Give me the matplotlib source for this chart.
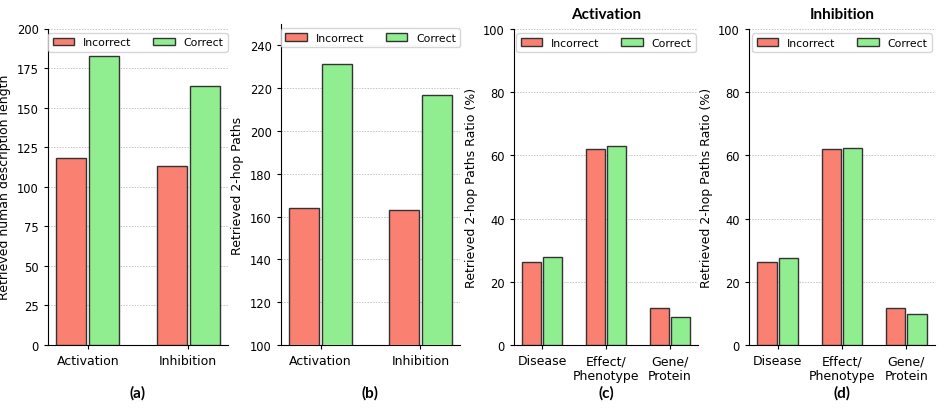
import numpy as np
import matplotlib
matplotlib.use("Agg")
import matplotlib.pyplot as plt

# ---- data ----
relations = ["Activation", "Inhibition"]
desc_incorrect = [118, 113]
desc_correct = [182.5, 163.5]

paths_incorrect = [164, 163]
paths_correct = [231.5, 217]

node_types = ["Disease", "Effect/\nPhenotype", "Gene/\nProtein"]
act_incorrect = [26.3, 62.0, 11.7]
act_correct = [28.0, 63.0, 9.0]
inh_incorrect = [26.3, 62.0, 11.7]
inh_correct = [27.5, 62.5, 9.8]

RED = "#FA8072"
GREEN = "#90EE90"
EDGE = "#333333"

W, H = 947, 410
fig = plt.figure(figsize=(W / 100, H / 100), dpi=100)


def add_ax(x0, y0, x1, y1):
    # pixel box -> figure fraction
    return fig.add_axes([x0 / W, 1 - y1 / H, (x1 - x0) / W, (y1 - y0) / H])


def draw_panel(ax, cats, inc, cor, ylabel, ylim, yticks, letter, title=None):
    x = np.arange(len(cats))
    width = 0.3
    off = 0.165
    ax.bar(x - off, inc, width, color=RED, edgecolor=EDGE, linewidth=1.0,
           label="Incorrect", zorder=3)
    ax.bar(x + off, cor, width, color=GREEN, edgecolor=EDGE, linewidth=1.0,
           label="Correct", zorder=3)
    ax.set_xticks(x)
    ax.set_xticklabels(cats, fontsize=9)
    ax.set_ylim(*ylim)
    ax.set_yticks(yticks)
    ax.tick_params(axis="y", labelsize=8.3)
    ax.tick_params(axis="both", length=3)
    ax.set_ylabel(ylabel, fontsize=9)
    ax.yaxis.grid(True, linestyle=(0, (2, 2)), linewidth=0.5, color="#aaaaaa",
                  zorder=0)
    ax.set_axisbelow(True)
    ax.spines["top"].set_visible(False)
    ax.spines["right"].set_visible(False)
    ax.legend(loc="upper center", ncol=2, fontsize=7.8, handlelength=2.0,
              columnspacing=2.0, borderaxespad=0.4)
    if title:
        ax.set_title(title, fontsize=11, fontweight="bold", family="Lato", pad=8)
    bbox = ax.get_position()
    fig.text((bbox.x0 + bbox.x1) / 2, 1 - 393 / H, letter, ha="center",
             va="center", fontsize=11, fontweight="bold", family="Lato")


ax_a = add_ax(48, 29.5, 228, 346)
draw_panel(ax_a, relations, desc_incorrect, desc_correct,
           "Retrieved human description length", (0, 200),
           np.arange(0, 201, 25), "(a)")

ax_b = add_ax(281, 25, 460, 346)
draw_panel(ax_b, relations, paths_incorrect, paths_correct,
           "Retrieved 2-hop Paths", (100, 250),
           np.arange(100, 241, 20), "(b)")

ax_c = add_ax(514, 30, 698, 346)
draw_panel(ax_c, node_types, act_incorrect, act_correct,
           "Retrieved 2-hop Paths Ratio (%)", (0, 100),
           np.arange(0, 101, 20), "(c)", title="Activation")

ax_d = add_ax(749, 30, 935, 346)
draw_panel(ax_d, node_types, inh_incorrect, inh_correct,
           "Retrieved 2-hop Paths Ratio (%)", (0, 100),
           np.arange(0, 101, 20), "(d)", title="Inhibition")

fig.savefig("out.png", dpi=100)
